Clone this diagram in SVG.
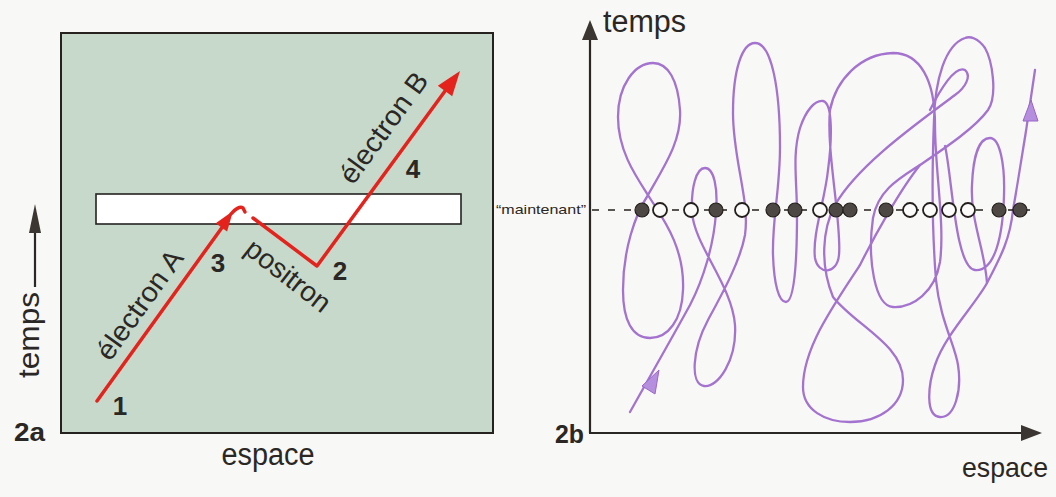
<svg xmlns="http://www.w3.org/2000/svg" width="1056" height="497" viewBox="0 0 1056 497">
<style>
.t{font-family:"Liberation Sans",Arial,sans-serif;fill:#2b2724}
.b{font-family:"Liberation Sans",Arial,sans-serif;font-weight:bold;fill:#2b2724}
.red{fill:none;stroke:#e5231d;stroke-width:3.5;stroke-linejoin:round;stroke-linecap:round}
.redf{fill:#e5231d}
.pur{fill:none;stroke:#a473cf;stroke-width:2.3;stroke-linejoin:round;stroke-linecap:round}
.purf{fill:#b58ede;stroke:#9a66c8;stroke-width:1}
.ax{stroke:#2b2724;stroke-width:2.2;fill:none}
.axf{fill:#3b3632}
.fd{fill:#4d4843;stroke:#231f1c;stroke-width:1.2}
.od{fill:#fbfbfa;stroke:#231f1c;stroke-width:1.8}
</style>
<rect width="1056" height="497" fill="#f8f8f6"/>

<g id="panel-2a">
  <rect x="61" y="33" width="432" height="400" fill="#c6d9cb" stroke="#252220" stroke-width="2"/>
  <rect id="now-bar" x="96" y="194" width="365" height="30" fill="#ffffff" stroke="#252220" stroke-width="1.6"/>
</g>

<g id="connectors-2a">
  <path id="electron-A" class="red" d="M97,401 L226,222"/>
  <polygon class="redf" points="233,211 227.1,231.4 215.7,223.2"/>
  <path id="hook" class="red" d="M231,214 C235,209 240,206 243,208 L245,212" stroke-width="2.6"/>
  <path id="positron-electron-B" class="red" d="M253,218 L317,266 L448,87"/>
  <polygon class="redf" points="460,71 452.2,96.2 437.8,85.8"/>
</g>

<g id="labels-2a">
  <text class="t" font-size="28" text-anchor="middle" textLength="128" lengthAdjust="spacingAndGlyphs" transform="translate(140,305) rotate(-54.4)" y="9">électron A</text>
  <text class="t" font-size="28" text-anchor="middle" textLength="130" lengthAdjust="spacingAndGlyphs" transform="translate(384,128) rotate(-54)" y="9">électron B</text>
  <text class="t" font-size="28" text-anchor="middle" textLength="100" lengthAdjust="spacingAndGlyphs" transform="translate(288,276) rotate(38)" y="9">positron</text>
  <text class="b" font-size="26" x="120" y="415" text-anchor="middle">1</text>
  <text class="b" font-size="26" x="218" y="272" text-anchor="middle">3</text>
  <text class="b" font-size="26" x="340" y="280" text-anchor="middle">2</text>
  <text class="b" font-size="26" x="413" y="178" text-anchor="middle">4</text>
  <text class="b" font-size="25" x="14" y="441" textLength="31" lengthAdjust="spacingAndGlyphs">2a</text>
  <text class="t" font-size="31" x="268" y="465" text-anchor="middle" textLength="93" lengthAdjust="spacingAndGlyphs">espace</text>
  <text class="t" font-size="29" text-anchor="middle" textLength="86" lengthAdjust="spacingAndGlyphs" transform="translate(39,335) rotate(-90)">temps</text>
  <line class="ax" x1="35" y1="287" x2="35" y2="230"/>
  <polygon class="axf" points="35,204 29,233 41,233"/>
</g>

<g id="axes-2b">
  <line class="ax" x1="590" y1="433" x2="590" y2="36"/>
  <polygon class="axf" points="590,20 582,40 598,40"/>
  <line class="ax" x1="589" y1="433" x2="1024" y2="433"/>
  <polygon class="axf" points="1042,433 1021,425 1021,441"/>
  <text class="t" font-size="31" x="603" y="32" textLength="83" lengthAdjust="spacingAndGlyphs">temps</text>
  <text class="t" font-size="28" x="962" y="477" textLength="86" lengthAdjust="spacingAndGlyphs">espace</text>
  <text class="b" font-size="25" x="555" y="443" textLength="29" lengthAdjust="spacingAndGlyphs">2b</text>
  <text class="t" font-size="13" x="496" y="214" textLength="90" lengthAdjust="spacingAndGlyphs">“maintenant”</text>
</g>

<g id="worldline">
  <path class="pur" d="M630,412 C645,385 668,345 690,305 C703,280 714,245 716,212 C718,188 714,168 705,168 C696,168 691,188 692,212 C694,245 732,285 735,325 C737,360 718,388 704,386 C690,384 692,350 708,320 C722,294 740,262 745,235 C750,200 733,160 733,113 C733,70 742,43 755,43 C772,43 780,90 780,147 C780,190 772,220 773,255 C774,285 779,302 786,302 C794,302 797,265 797,215 C797,180 792,155 800,128 C806,110 815,100 823,101 C833,103 832,140 828,170 C825,200 812,235 815,258 C818,275 837,275 839,255 C842,225 826,150 830,110 C836,80 860,54 893,53 C920,53 935,80 935,125 C935,170 945,225 940,262 C935,292 913,308 893,307 C875,306 867,260 873,218 C878,190 900,178 920,165 C945,148 975,128 988,110 C998,95 992,60 985,48 C978,38 970,36 965,38 C945,45 935,80 934,120 C932,170 932,230 936,280 C940,320 955,345 958,365 C962,390 955,418 940,417 C925,416 928,385 935,365 C945,335 975,305 987,283 C1000,258 1010,240 1013,210 C1020,170 1028,120 1035,70"/>
  <path class="pur" d="M648,195 C665,165 682,140 680,110 C678,80 668,63 653,63 C635,63 618,85 618,117 C618,150 635,175 648,195 C660,215 685,245 683,290 C682,320 668,338 650,338 C632,338 623,320 623,290 C623,250 635,215 648,195 Z"/>
  <path class="pur" d="M930,110 C940,90 955,65 965,70 C972,76 965,88 955,95 C915,125 858,165 835,205 C822,230 820,265 833,297 C855,325 903,345 903,380 C903,405 880,422 850,422 C825,422 803,410 803,387 C803,350 830,310 860,265 C875,235 900,190 920,165"/>
  <path class="pur" d="M945,146 C952,175 955,268 975,270 C995,272 1003,235 1004,195 C1005,165 1000,138 990,138 C978,138 973,160 972,185 C970,220 985,250 987,283"/>
  <polygon class="purf" points="659,370 642,386 655,394"/>
  <polygon class="purf" points="1031,100 1023,121 1038,121"/>
</g>

<g id="now-line">
  <line x1="592" y1="210" x2="1030" y2="210" stroke="#231f1c" stroke-width="1.6" stroke-dasharray="7 9"/>
  <circle class="fd" cx="642" cy="210" r="7"/>
  <circle class="od" cx="660" cy="210" r="7"/>
  <circle class="od" cx="691" cy="210" r="7"/>
  <circle class="fd" cx="716" cy="210" r="7"/>
  <circle class="od" cx="742" cy="210" r="7"/>
  <circle class="fd" cx="773" cy="210" r="7"/>
  <circle class="fd" cx="795" cy="210" r="7"/>
  <circle class="od" cx="820" cy="210" r="7"/>
  <circle class="fd" cx="836" cy="210" r="7"/>
  <circle class="fd" cx="850" cy="210" r="7"/>
  <circle class="fd" cx="886" cy="210" r="7"/>
  <circle class="od" cx="910" cy="210" r="7"/>
  <circle class="od" cx="930" cy="210" r="7"/>
  <circle class="od" cx="949" cy="210" r="7"/>
  <circle class="od" cx="968" cy="210" r="7"/>
  <circle class="fd" cx="999" cy="210" r="7"/>
  <circle class="fd" cx="1020" cy="210" r="7"/>
</g>
</svg>
